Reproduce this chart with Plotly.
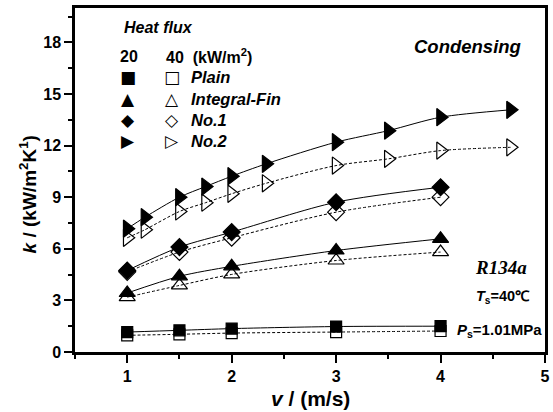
import plotly.graph_objects as go

# ---- data ----
v_plain = [1, 1.5, 2, 3, 4]
k_plain_20 = [1.16, 1.26, 1.36, 1.48, 1.50]
k_plain_40 = [0.97, 1.03, 1.10, 1.16, 1.22]

v_fin = [1, 1.5, 2, 3, 4]
k_fin_20 = [3.43, 4.40, 4.98, 5.90, 6.58]
k_fin_40 = [3.19, 3.87, 4.51, 5.32, 5.81]

v_no1 = [1, 1.5, 2, 3, 4]
k_no1_20 = [4.74, 6.10, 6.97, 8.71, 9.58]
k_no1_40 = [4.66, 5.81, 6.64, 8.13, 9.00]

v_no2 = [1, 1.17, 1.5, 1.75, 2, 2.33, 3, 3.5, 4, 4.67]
k_no2_20 = [7.17, 7.84, 9.00, 9.62, 10.22, 10.94, 12.20, 12.87, 13.65, 14.08]
k_no2_40 = [6.64, 7.11, 8.17, 8.68, 9.20, 9.81, 10.84, 11.23, 11.71, 11.90]

x_ticks = [1, 2, 3, 4, 5]
y_ticks = [0, 3, 6, 9, 12, 15, 18]

FONT = "Liberation Sans, Arial, sans-serif"

fig = go.Figure()

series = [
    (v_plain, k_plain_20, "square", "solid", 11),
    (v_plain, k_plain_40, "square-open", "dash", 11),
    (v_fin, k_fin_20, "triangle-up", "solid", 14),
    (v_fin, k_fin_40, "triangle-up-open", "dash", 14),
    (v_no1, k_no1_20, "diamond", "solid", 13),
    (v_no1, k_no1_40, "diamond-open", "dash", 13),
    (v_no2, k_no2_20, "triangle-right", "solid", 15),
    (v_no2, k_no2_40, "triangle-right-open", "dash", 15),
]
for xs, ys, sym, dash, sz in series:
    fig.add_trace(go.Scatter(
        x=xs, y=ys, mode="lines+markers",
        line=dict(color="black", width=1, dash="3px,2px" if dash == "dash" else "solid", shape="spline", smoothing=0.8),
        marker=dict(symbol=sym, size=sz, color="black", line=dict(color="black", width=1.2)),
        showlegend=False,
    ))

axis_common = dict(
    showline=True, linecolor="black", linewidth=2.5, mirror=True,
    ticks="outside", ticklen=8, tickwidth=2, tickcolor="black",
    showgrid=False, zeroline=False, automargin=False,
    tickfont=dict(family=FONT, size=16, color="black", weight="bold"),
)

fig.update_xaxes(
    range=[0.5, 5], tickvals=x_ticks,
    minor=dict(dtick=0.5, tick0=0.5, ticks="outside", ticklen=4, tickwidth=2, tickcolor="black"),
    **axis_common,
)
fig.update_yaxes(
    range=[0, 20], tickvals=y_ticks,
    minor=dict(dtick=1.5, tick0=0, ticks="outside", ticklen=4, tickwidth=2, tickcolor="black"),
    **axis_common,
)

def ann(text, x, y, size=14, xanchor="left", family=FONT, angle=0):
    fig.add_annotation(text=text, x=x, y=y, xref="paper", yref="paper",
                       xanchor=xanchor, yanchor="middle", showarrow=False,
                       textangle=angle, borderpad=0,
                       font=dict(family=family, size=size, color="black"))

# paper coords: plot left=75,right=545 (470 px); top=7.5,bottom=351.7 (344.2 px)
def px(x):
    return (x - 75) / 470.0

def py(y):
    return (351.7 - y) / 344.2

# axis titles
ann("<b><i>k</i> / (kW/m<sup>2</sup>K<sup>1</sup>)</b>", px(28), py(194), 19, xanchor="center", angle=-90)
ann("<b><i>v</i> / (m/s)</b>", px(310), py(398), 21, xanchor="center")

ann("<b><i>Heat flux</i></b>", px(123), py(27), 16)
ann("<b>20</b>", px(119), py(56), 16)
ann("<b>40  (kW/m<sup>2</sup>)</b>", px(165), py(56), 16)

rows = [("■", "□", "Plain", 77), ("▲", "△", "Integral-Fin", 98.5), ("◆", "◇", "No.1", 120), ("▶", "▷", "No.2", 141)]
for f, o, lab, yy in rows:
    ann(f, px(128), py(yy), 17, xanchor="center", family="DejaVu Sans")
    ann(o, px(172), py(yy), 17, xanchor="center", family="DejaVu Sans")
    ann("<b><i>%s</i></b>" % lab, px(190), py(yy), 16.5)

ann("<b><i>Condensing</i></b>", px(522), py(46), 18.5, xanchor="right")
ann("<b><i>R134a</i></b>", px(528), py(267), 19, xanchor="right", family="Liberation Serif, Times New Roman, serif")
ann("<b><i>T</i><sub>s</sub>=40℃</b>", px(531), py(297), 14.5, xanchor="right")
ann("<b><i>P</i><sub>s</sub>=1.01MPa</b>", px(543), py(330), 15, xanchor="right")

fig.update_layout(
    width=553, height=412,
    margin=dict(l=75, r=8, t=7.5, b=60.3),
    paper_bgcolor="white", plot_bgcolor="white",
    font=dict(family=FONT, color="black"),
)

fig.write_html("out.html", config={"displayModeBar": False},
               post_script="document.body.style.margin='0';")
